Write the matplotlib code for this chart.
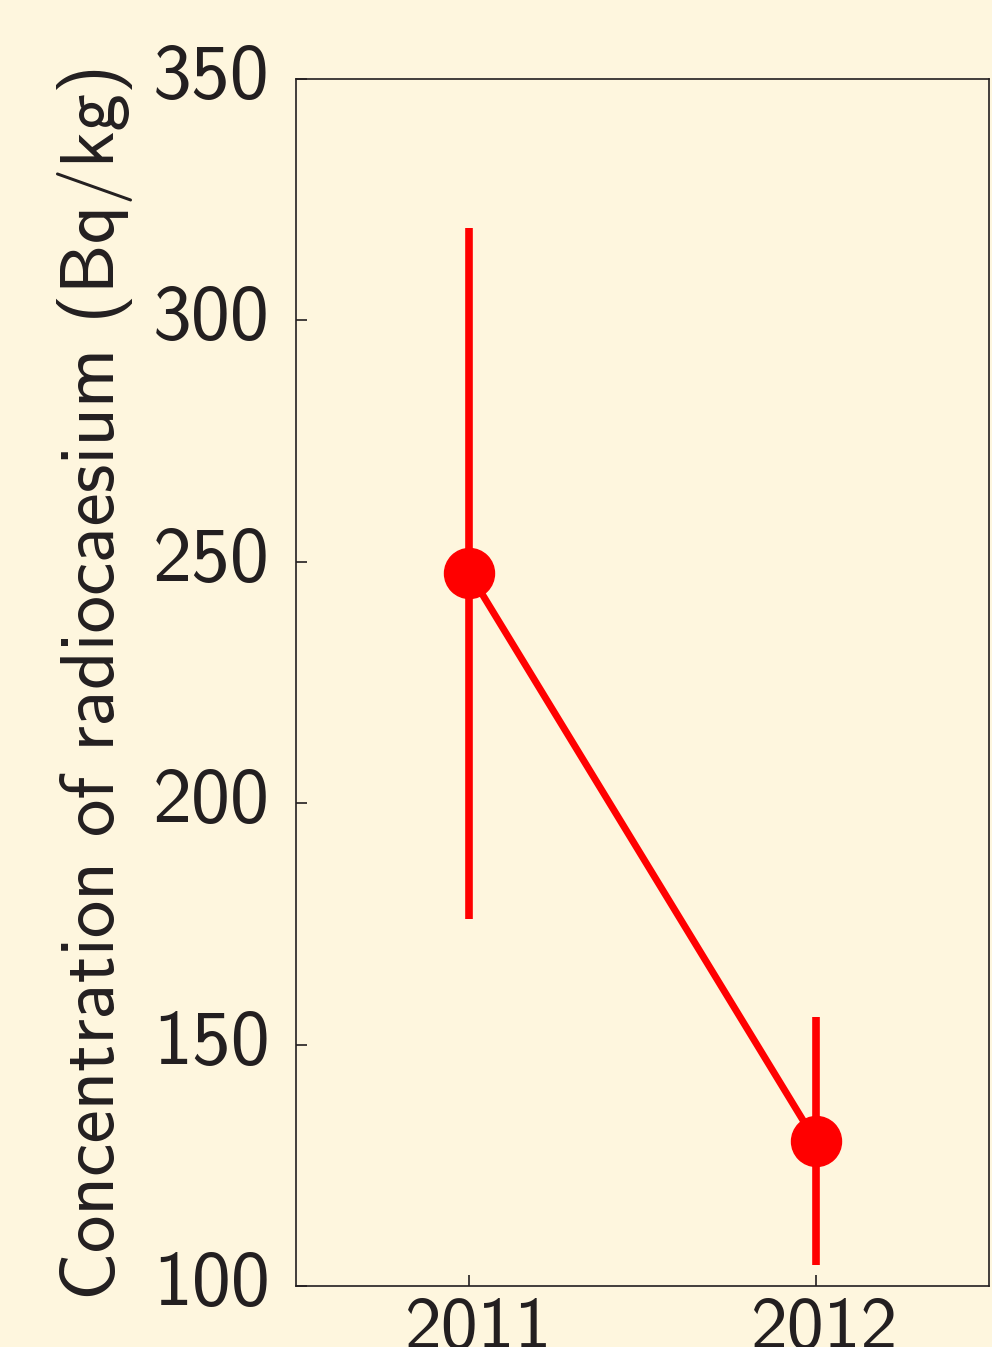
import matplotlib
matplotlib.use("Agg")
import matplotlib.pyplot as plt
from matplotlib.transforms import ScaledTranslation

years = [2011, 2012]
means = [247.7, 130.0]
err_low = [176.0, 104.3]
err_high = [319.1, 155.7]
yticks = [100, 150, 200, 250, 300, 350]

bg = "#FEF6DE"
txt = "#231F20"
red = "#FF0000"

plt.rcParams['font.family'] = ['cmss10', 'DejaVu Sans']
plt.rcParams['axes.unicode_minus'] = False

fig = plt.figure(figsize=(9.92, 13.47), dpi=100, facecolor=bg)
ax = fig.add_axes([296/992, 1 - 1286/1347, (989-296)/992, (1286-79)/1347])
ax.set_facecolor(bg)

yerr = [[m - l for m, l in zip(means, err_low)], [h - m for m, h in zip(means, err_high)]]
ax.errorbar(years, means, yerr=yerr, color=red, lw=5, elinewidth=5.5, capsize=0,
            marker='o', markersize=36, zorder=3)

ax.set_xlim(2010.5, 2012.5)
ax.set_ylim(100, 350)
ax.set_xticks(years)
ax.set_xticklabels([str(y) for y in years])
ax.set_yticks(yticks)
ax.tick_params(direction='in', length=8, width=1.2, colors=txt, labelsize=56,
               top=False, right=False)
ax.tick_params(axis='y', pad=19)
ax.tick_params(axis='x', pad=8, labelsize=53)
for lab in ax.get_yticklabels():
    lab.set_color(txt)
    lab.set_transform(lab.get_transform() + ScaledTranslation(0, 8/100, fig.dpi_scale_trans))
for lab in ax.get_xticklabels():
    lab.set_color(txt)
    lab.set_transform(lab.get_transform() + ScaledTranslation(9/100, 0, fig.dpi_scale_trans))
for s in ax.spines.values():
    s.set_linewidth(1.2)
    s.set_color(txt)

ax.set_ylabel("Concentration of radiocaesium (Bq/kg)", fontsize=54, color=txt, labelpad=14)

fig.savefig("out.png", dpi=100, facecolor=bg)
